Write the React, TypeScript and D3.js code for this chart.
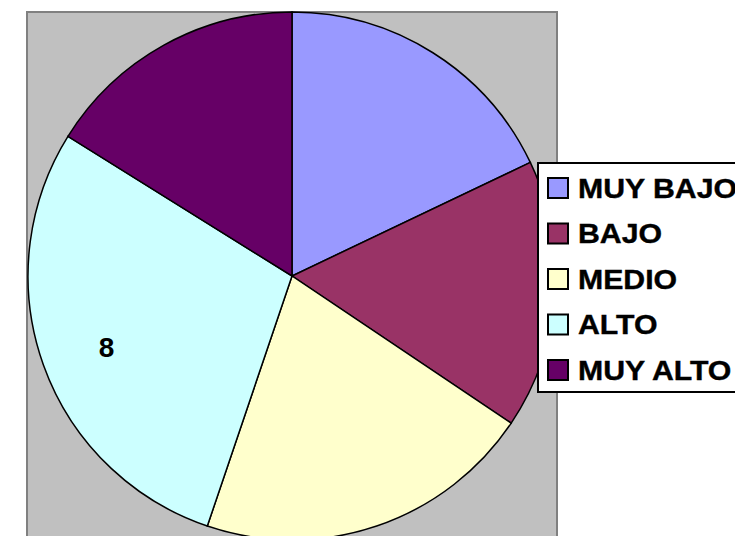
import React from "react";
import * as d3 from "d3";

const WIDTH = 735;
const HEIGHT = 536;

const categories = ["MUY BAJO", "BAJO", "MEDIO", "ALTO", "MUY ALTO"];
const values = [5, 4.6, 5.8, 8, 4.5];
const shownLabels = ["", "", "", "8", ""];
const colors = ["#9999FF", "#993366", "#FFFFCC", "#CCFFFF", "#660066"];

const CX = 292;
const CY = 276;
const RADIUS = 264;

const App = () => {
  const pie = d3
    .pie<number>()
    .value((d) => d)
    .sort(null);
  const arcs = pie(values);
  const arcGen = d3.arc<d3.PieArcDatum<number>>().innerRadius(0).outerRadius(RADIUS);
  const labelArc = d3
    .arc<d3.PieArcDatum<number>>()
    .innerRadius(RADIUS * 0.75)
    .outerRadius(RADIUS * 0.75);

  const legendY = d3.scalePoint<string>().domain(categories).range([188, 370]);

  return (
    <svg
      width={WIDTH}
      height={HEIGHT}
      style={{ position: "absolute", left: 0, top: 0, background: "white" }}
      fontFamily="'Liberation Sans', Arial, sans-serif"
    >
      {/* plot area */}
      <rect x={27} y={12} width={530} height={560} fill="#C0C0C0" stroke="#808080" strokeWidth={2} />

      <g transform={`translate(${CX}, ${CY})`}>
        {arcs.map((a, i) => (
          <path key={i} d={arcGen(a) || ""} fill={colors[i]} stroke="black" strokeWidth={1.5} />
        ))}
        {arcs.map((a, i) => {
          if (!shownLabels[i]) return null;
          const [x, y] = labelArc.centroid(a);
          // label sits a little lower than the centroid, like the original
          return (
            <text
              key={"l" + i}
              x={x + 1}
              y={y + 14}
              textAnchor="middle"
              fontSize={28}
              fontWeight="bold"
              fill="black"
            >
              {shownLabels[i]}
            </text>
          );
        })}
      </g>

      {/* legend */}
      <rect x={538} y={163} width={220} height={229} fill="white" stroke="black" strokeWidth={2} />
      {categories.map((c, i) => {
        const y = legendY(c) as number;
        return (
          <g key={c}>
            <rect x={548} y={y - 10} width={20} height={20} fill={colors[i]} stroke="black" strokeWidth={2} />
            <g transform={`translate(578, ${y}) scale(1.08, 1)`}>
              <text
                x={0}
                y={0}
                dominantBaseline="central"
                fontSize={28}
                fontWeight="bold"
                stroke="black"
                strokeWidth={0.4}
                fill="black"
              >
                {c}
              </text>
            </g>
          </g>
        );
      })}
    </svg>
  );
};

export default App;
